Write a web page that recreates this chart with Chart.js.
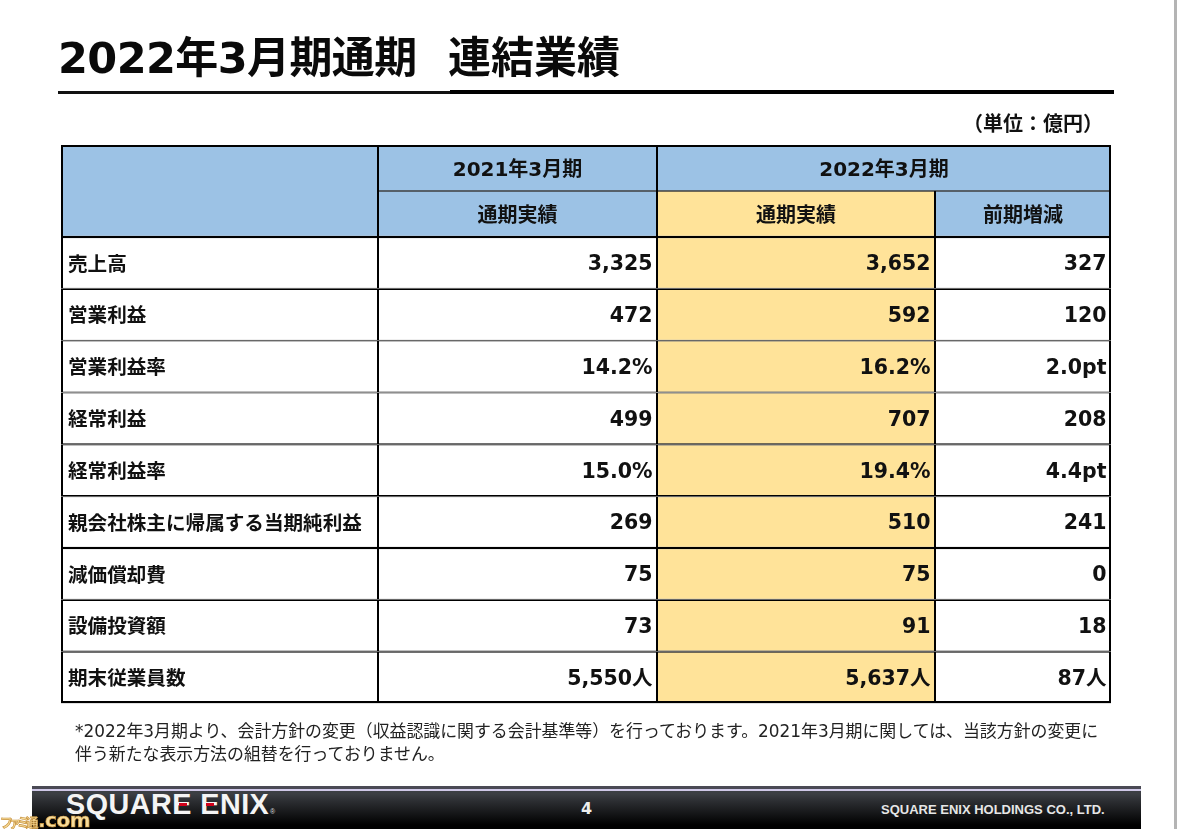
<!DOCTYPE html>
<html lang="ja">
<head>
<meta charset="utf-8">
<title>2022年3月期通期 連結業績</title>
<script src="https://cdn.jsdelivr.net/npm/chart.js@4/dist/chart.umd.min.js"></script>
<style>
  html, body { margin: 0; padding: 0; background: #fff; }
  body { width: 1177px; height: 829px; position: relative; overflow: hidden; font-family: "DejaVu Sans", "Noto Sans CJK JP", sans-serif; color: #111; }
  #myChart { position: absolute; left: 0; top: 0; }
  .abs { position: absolute; white-space: nowrap; }
  .title { top: 31px; font-size: 43px; line-height: 54px; font-weight: bold; color: #0a0a0a; }
  .note { left: 75px; font-size: 16.9px; line-height: 23px; color: #222; }
  #footer { left: 32px; top: 786px; width: 1109px; height: 43px; background: linear-gradient(#3c3f44 12%, #2c2e32 30%, #000 90%); border-top: 3px solid #4a4a55; box-sizing: border-box; }
  #footerLine { left: 32px; top: 789px; width: 1109px; height: 2px; background: #cfc8e8; }
  #rightEdge { left: 1174px; top: 0; width: 3px; height: 829px; background: #b4b4b4; }
</style>
</head>
<body>
<canvas id="myChart" width="1177" height="829"></canvas>

<div class="abs title" style="left:58px;letter-spacing:-0.6px">2022年3月期通期</div>
<div class="abs title" style="left:448px">連結業績</div>
<div class="abs" style="left:58px;top:90.5px;width:392px;height:3px;background:#111"></div>
<div class="abs" style="left:450px;top:90px;width:664px;height:4px;background:#000"></div>
<div class="abs" style="left:963px;top:112px;font-size:20px;line-height:24px;font-weight:bold">（単位：億円）</div>

<div class="abs note" style="top:720px">*2022年3月期より、会計方針の変更（収益認識に関する会計基準等）を行っております。2021年3月期に関しては、当該方針の変更に</div>
<div class="abs note" style="top:743px">伴う新たな表示方法の組替を行っておりません。</div>

<div class="abs" id="footer"></div>
<div class="abs" id="footerLine"></div>
<div class="abs" style="left:66px;top:788px;font:bold 29px 'Liberation Sans';line-height:32px;color:#f4f4f4;letter-spacing:0.5px;transform:scaleX(0.99);transform-origin:left top">SQUARE ENIX</div>
<div class="abs" style="left:179px;top:803px;width:8px;height:3px;background:#d0021b"></div>
<div class="abs" style="left:206px;top:803px;width:8px;height:3px;background:#d0021b"></div>
<div class="abs" style="left:270px;top:808px;font:7px 'Liberation Sans';color:#ddd">®</div>
<div class="abs" style="left:581px;top:799px;font-size:16px;line-height:20px;font-weight:bold;color:#eee">4</div>
<div class="abs" style="left:881px;top:802px;font:bold 13px 'Liberation Sans';line-height:15px;color:#e6e6e6">SQUARE ENIX HOLDINGS CO., LTD.</div>
<div class="abs" style="left:0;top:809px;line-height:22px;font-weight:bold;color:#f6dc9c;-webkit-text-stroke:0.7px #c9943f"><span style="font-size:13px;letter-spacing:-4.5px">ファミ通</span><span style="font-size:20px;letter-spacing:-0.5px;margin-left:4px">.com</span></div>
<div class="abs" id="rightEdge"></div>

<script>
/* TABLE DATA */

const rowNames = ["売上高", "営業利益", "営業利益率", "経常利益", "経常利益率", "親会社株主に帰属する当期純利益", "減価償却費", "設備投資額", "期末従業員数"];
const actual2021 = ["3,325", "472", "14.2%", "499", "15.0%", "269", "75", "73", "5,550人"];
const actual2022 = ["3,652", "592", "16.2%", "707", "19.4%", "510", "75", "91", "5,637人"];
const yearChange = ["327", "120", "2.0pt", "208", "4.4pt", "241", "0", "18", "87人"];
const periodLabels = ["2021年3月期", "2022年3月期"];
const headLabels = ["通期実績", "通期実績", "前期増減"];
const headRows = ["期", "区分"];

/* LAYOUT AND STYLES */

const columnEdges = [61, 378, 657, 935, 1111];
const ruleBelowRow = [2.4, 1.8, 1.8, 2.4, 2.4, 2.4, 2.4, 2.4, 2.4];
const BLUE = "#9cc2e5";
const YELLOW = "#ffe399";
const INK = "#111111";
const CELL_FONT = "bold 20.5px 'DejaVu Sans', 'Noto Sans CJK JP', sans-serif";
const HEAD_FONT = "bold 20px 'DejaVu Sans', 'Noto Sans CJK JP', sans-serif";

function headCell(row, firstCol, lastCol, fill, border) {
  return {
    yAxisID: "yHead",
    data: [{ x: [columnEdges[firstCol], columnEdges[lastCol + 1]], y: headRows[row] }],
    backgroundColor: fill,
    borderWidth: border
  };
}

function bodyColumn(col, fill) {
  return {
    yAxisID: "yBody",
    data: rowNames.map(function (name) {
      return { x: [columnEdges[col], columnEdges[col + 1]], y: name };
    }),
    backgroundColor: fill,
    borderWidth: function (ctx) {
      var i = ctx.dataIndex;
      return {
        left: col == 0 ? 2 : 1,
        right: col == 3 ? 2 : 1,
        top: i == 0 ? 1.2 : ruleBelowRow[i - 1] / 2,
        bottom: i == rowNames.length - 1 ? 2.4 : ruleBelowRow[i] / 2
      };
    }
  };
}

const datasets = [
  headCell(0, 0, 0, BLUE, { top: 2, left: 2, right: 1, bottom: 0 }),
  headCell(1, 0, 0, BLUE, { top: 0, left: 2, right: 1, bottom: 1.2 }),
  headCell(0, 1, 1, BLUE, { top: 2, left: 1, right: 1, bottom: 0.8 }),
  headCell(1, 1, 1, BLUE, { top: 0.8, left: 1, right: 1, bottom: 1.2 }),
  headCell(0, 2, 3, BLUE, { top: 2, left: 1, right: 2, bottom: 0.8 }),
  headCell(1, 2, 2, YELLOW, { top: 0.8, left: 1, right: 1, bottom: 1.2 }),
  headCell(1, 3, 3, BLUE, { top: 0.8, left: 1, right: 2, bottom: 1.2 }),
  bodyColumn(0, "#ffffff"),
  bodyColumn(1, "#ffffff"),
  bodyColumn(2, YELLOW),
  bodyColumn(3, "#ffffff")
];

/* writes the header and value text into the cells */
const cellText = {
  id: "cellText",
  afterDatasetsDraw: function (chart) {
    var ctx = chart.ctx;
    var x = chart.scales.x;
    var yHead = chart.scales.yHead;
    var yBody = chart.scales.yBody;

    ctx.save();
    ctx.fillStyle = INK;
    ctx.textBaseline = "middle";

    ctx.font = HEAD_FONT;
    ctx.textAlign = "center";
    function middle(a, b) {
      return (x.getPixelForValue(columnEdges[a]) + x.getPixelForValue(columnEdges[b])) / 2;
    }
    ctx.fillText(periodLabels[0], middle(1, 2), yHead.getPixelForValue(0) + 3);
    ctx.fillText(periodLabels[1], middle(2, 4), yHead.getPixelForValue(0) + 3);
    for (var h = 0; h < headLabels.length; h++) {
      ctx.fillText(headLabels[h], middle(h + 1, h + 2), yHead.getPixelForValue(1) + 3);
    }

    ctx.font = CELL_FONT;
    ctx.textAlign = "right";
    var columns = [actual2021, actual2022, yearChange];
    for (var c = 0; c < columns.length; c++) {
      var right = x.getPixelForValue(columnEdges[c + 2]) - 4.5;
      for (var r = 0; r < rowNames.length; r++) {
        ctx.fillText(columns[c][r], right, yBody.getPixelForValue(r) + 2);
      }
    }
    ctx.restore();
  }
};

new Chart("myChart", {
  type: "bar",
  plugins: [cellText],
  data: { datasets: datasets },
  options: {
    indexAxis: "y",
    responsive: false,
    animation: false,
    layout: { padding: { left: 61, right: 66, top: 145, bottom: 125.5 } },
    datasets: {
      bar: {
        grouped: false,
        barPercentage: 1,
        categoryPercentage: 1,
        borderColor: "#000000",
        borderSkipped: false,
        inflateAmount: 0
      }
    },
    plugins: {
      legend: { display: false },
      title: { display: false },
      tooltip: { enabled: false }
    },
    scales: {
      x: {
        type: "linear",
        display: false,
        min: columnEdges[0],
        max: columnEdges[columnEdges.length - 1]
      },
      yHead: {
        type: "category",
        labels: headRows,
        position: "left",
        stack: "table",
        stackWeight: 92,
        weight: 2,
        offset: true,
        grid: { display: false },
        border: { display: false },
        ticks: { display: false },
        afterFit: function (scale) { scale.width = 0; }
      },
      yBody: {
        type: "category",
        labels: rowNames,
        position: "left",
        stack: "table",
        stackWeight: 466.5,
        weight: 1,
        offset: true,
        grid: { display: false },
        border: { display: false },
        afterFit: function (scale) { scale.width = 0; },
        ticks: {
          mirror: true,
          z: 1,
          padding: 7,
          labelOffset: 2.5,
          color: INK,
          autoSkip: false,
          font: { family: "'DejaVu Sans', 'Noto Sans CJK JP', sans-serif", size: 19.6, weight: "bold" }
        }
      }
    }
  }
});
</script>
</body>
</html>
